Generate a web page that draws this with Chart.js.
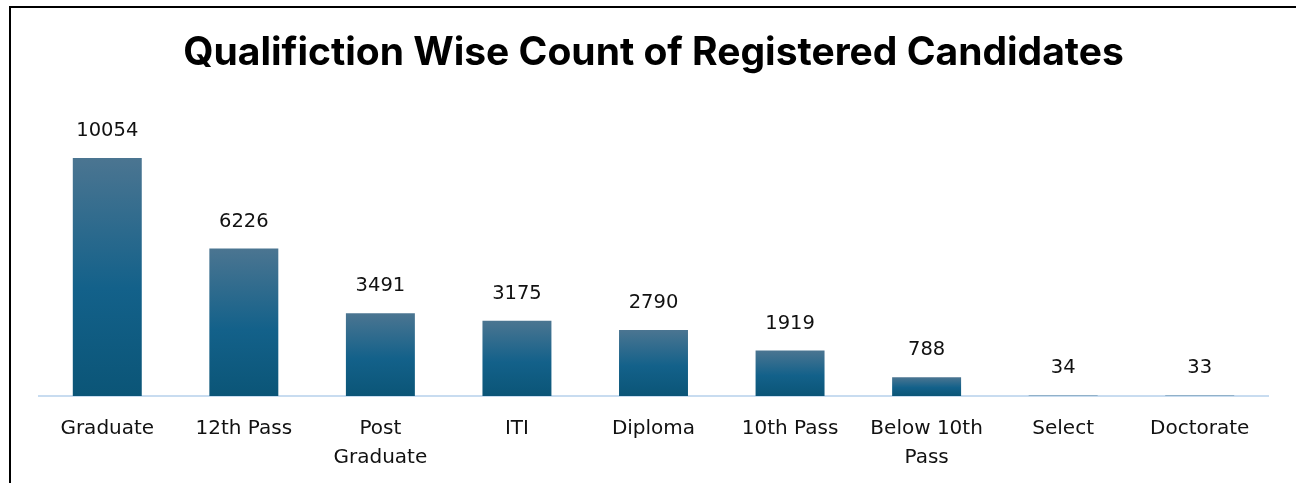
<!DOCTYPE html>
<html>
<head>
<meta charset="utf-8">
<script src="https://cdn.jsdelivr.net/npm/chart.js@4.4.1/dist/chart.umd.min.js"></script>
<style>
  html, body { margin: 0; padding: 0; background: #fff; }
  #wrap { position: relative; width: 1296px; height: 483px; overflow: hidden; }
  #frame { position: absolute; left: 9px; top: 6px; width: 1400px; height: 600px;
           border-left: 2px solid #000; border-top: 2px solid #000; box-sizing: border-box; }
  canvas { position: absolute; left: 0; top: 0; }
</style>
</head>
<body>
<div id="wrap">
  <div id="frame"></div>
  <canvas id="chart" width="1296" height="490"></canvas>
</div>
<script>
// Qualification wise counts
const categories = [
  'Graduate', '12th Pass', ['Post', 'Graduate'], 'ITI', 'Diploma',
  '10th Pass', ['Below 10th', 'Pass'], 'Select', 'Doctorate'
];
const counts = [10054, 6226, 3491, 3175, 2790, 1919, 788, 34, 33];

const chartTitle = 'Qualifiction Wise Count of Registered Candidates';

// draws the number above each bar
const valueLabels = {
  id: 'valueLabels',
  afterDatasetsDraw(chart) {
    const ctx = chart.ctx;
    const meta = chart.getDatasetMeta(0);
    ctx.save();
    ctx.font = '19.5px "DejaVu Sans", sans-serif';
    ctx.fillStyle = '#111';
    ctx.textAlign = 'center';
    ctx.textBaseline = 'middle';
    meta.data.forEach((bar, i) => {
      ctx.fillText(String(counts[i]), bar.x, bar.y - 27);
    });
    ctx.restore();
  }
};

function barGradient(context) {
  const chart = context.chart;
  const area = chart.chartArea;
  if (!area || context.type !== 'data') return '#125f85';
  const y = chart.scales.y;
  const top = y.getPixelForValue(context.raw);
  const base = y.getPixelForValue(0);
  if (base - top < 1) return '#7fa3bd';
  const g = chart.ctx.createLinearGradient(0, top, 0, base);
  g.addColorStop(0, '#4b7591');
  g.addColorStop(0.55, '#13618a');
  g.addColorStop(1, '#0b5577');
  return g;
}

new Chart(document.getElementById('chart'), {
  type: 'bar',
  data: {
    labels: categories,
    datasets: [{
      data: counts,
      backgroundColor: barGradient,
      borderWidth: 0,
      categoryPercentage: 1,
      barPercentage: 0.505
    }]
  },
  options: {
    responsive: false,
    animation: false,
    layout: { padding: { left: 39, right: 28, top: 10, bottom: 0 } },
    plugins: {
      legend: { display: false },
      tooltip: { enabled: false },
      title: {
        display: true,
        text: chartTitle,
        color: '#000',
        font: { family: 'Inter, sans-serif', size: 39, weight: 'bold', lineHeight: 1.2 },
        padding: { top: 20, bottom: 35 }
      }
    },
    scales: {
      x: {
        grid: { display: false, drawTicks: false },
        border: { display: true, color: '#c8dcf0', width: 2 },
        ticks: {
          color: '#111',
          padding: 18,
          maxRotation: 0,
          autoSkip: false,
          font: { family: '"DejaVu Sans", sans-serif', size: 20, lineHeight: 1.45 }
        }
      },
      y: {
        display: false,
        min: 0,
        max: 12000
      }
    }
  },
  plugins: [valueLabels]
});
</script>
</body>
</html>
